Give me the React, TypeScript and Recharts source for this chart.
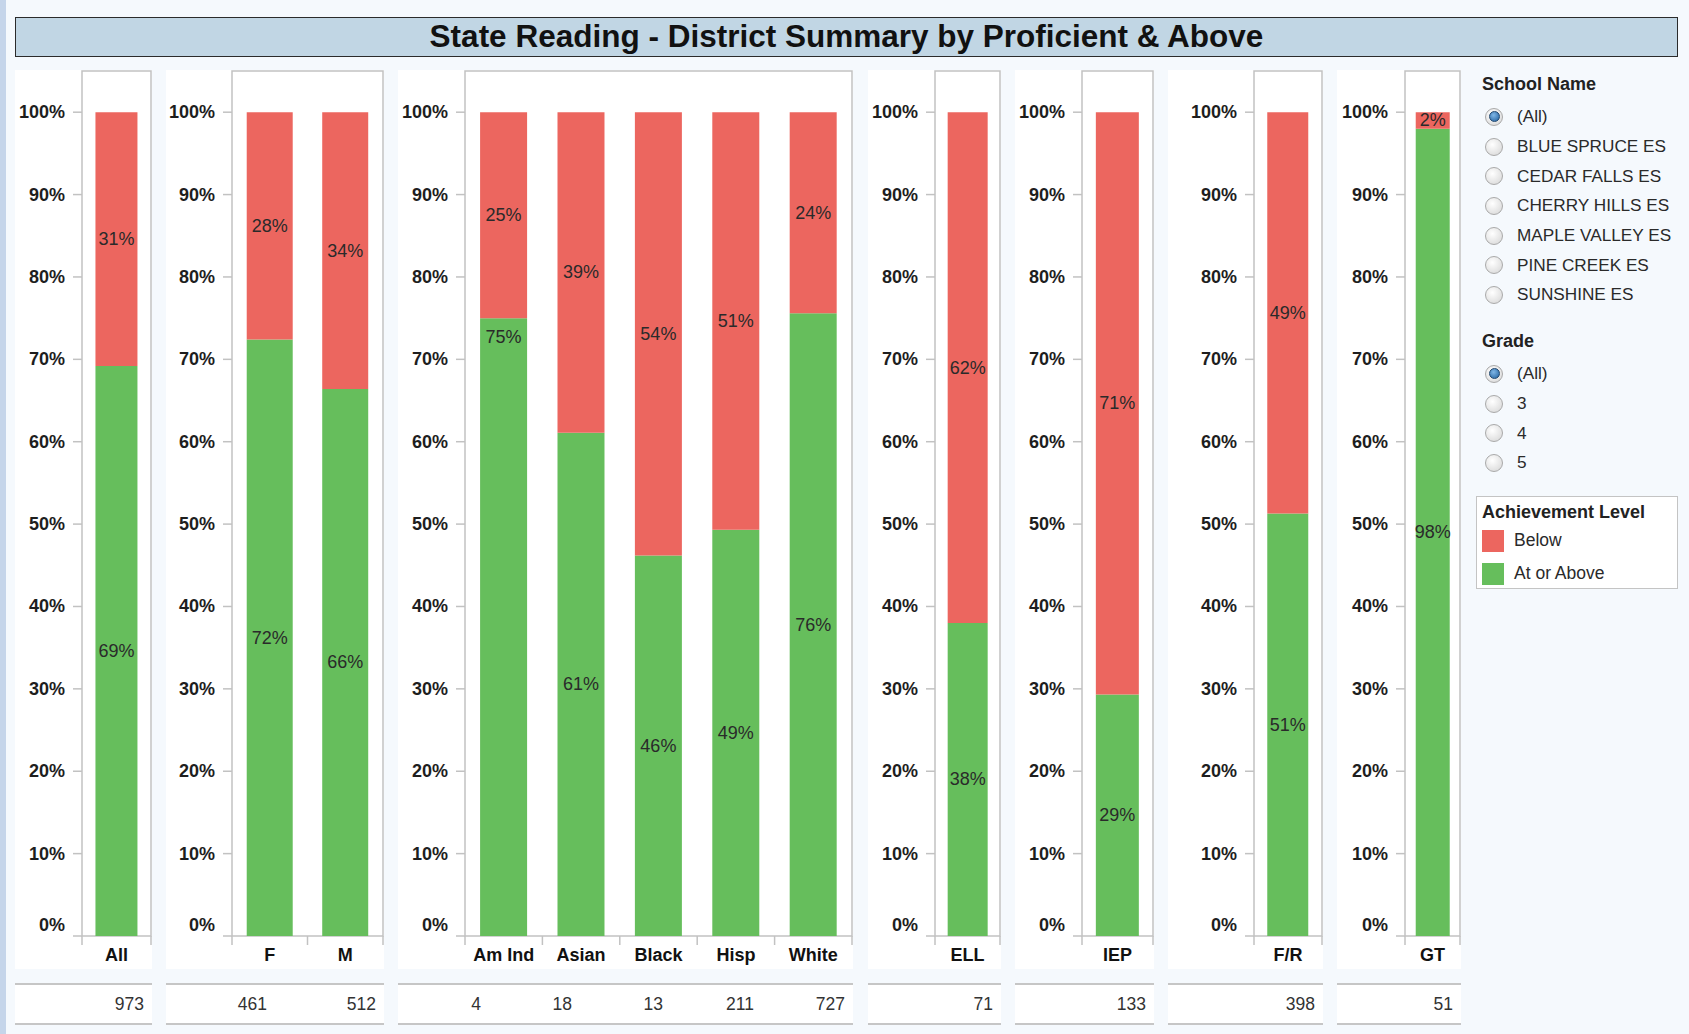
import React from "react";
import { BarChart, Bar, XAxis, YAxis, ReferenceArea, LabelList } from "recharts";

const RED = "#EC665F";
const GREEN = "#66BE5C";
const BOX = "#c2c2c2";
const FONT = '"Liberation Sans", Arial, sans-serif';

// values (percent of students)
const allCats = ["All"];
const allAbove = [69.2];
const allBelow = [30.8];
const allCounts = [973];

const genderCats = ["F", "M"];
const genderAbove = [72.4, 66.4];
const genderBelow = [27.6, 33.6];
const genderCounts = [461, 512];

const raceCats = ["Am Ind", "Asian", "Black", "Hisp", "White"];
const raceAbove = [75, 61.1, 46.2, 49.3, 75.6];
const raceBelow = [25, 38.9, 53.8, 50.7, 24.4];
const raceCounts = [4, 18, 13, 211, 727];

const ellCats = ["ELL"];
const ellAbove = [38];
const ellBelow = [62];
const ellCounts = [71];

const iepCats = ["IEP"];
const iepAbove = [29.3];
const iepBelow = [70.7];
const iepCounts = [133];

const frCats = ["F/R"];
const frAbove = [51.3];
const frBelow = [48.7];
const frCounts = [398];

const gtCats = ["GT"];
const gtAbove = [98];
const gtBelow = [2];
const gtCounts = [51];

// categories whose "At or Above" label sits near the top of the segment
const topLabelCats = ["Am Ind"];

const pctTicks = [0, 10, 20, 30, 40, 50, 60, 70, 80, 90, 100];

const schoolNames = [
  "(All)",
  "BLUE SPRUCE ES",
  "CEDAR FALLS ES",
  "CHERRY HILLS ES",
  "MAPLE VALLEY ES",
  "PINE CREEK ES",
  "SUNSHINE ES",
];
const grades = ["(All)", "3", "4", "5"];

const panels = [
  { left: 15, width: 137, yw: 67, cats: allCats, above: allAbove, below: allBelow, counts: allCounts },
  { left: 166, width: 218, yw: 66, cats: genderCats, above: genderAbove, below: genderBelow, counts: genderCounts },
  { left: 398, width: 455, yw: 67, cats: raceCats, above: raceAbove, below: raceBelow, counts: raceCounts },
  { left: 868, width: 133, yw: 67, cats: ellCats, above: ellAbove, below: ellBelow, counts: ellCounts },
  { left: 1015, width: 139, yw: 67, cats: iepCats, above: iepAbove, below: iepBelow, counts: iepCounts },
  { left: 1168, width: 155, yw: 86, cats: frCats, above: frAbove, below: frBelow, counts: frCounts },
  { left: 1337, width: 124, yw: 68, cats: gtCats, above: gtAbove, below: gtBelow, counts: gtCounts },
];

const CHART_TOP = 70;
const CHART_H = 899;
const XAXIS_H = 33;

const PctTick = (props: any) => {
  const { x, y, payload } = props;
  const dy = payload.value === 0 ? -11 : 0;
  return (
    <text
      x={x}
      y={y + dy}
      textAnchor="end"
      dominantBaseline="central"
      fontFamily={FONT}
      fontWeight="bold"
      fontSize={18}
      fill="#1e1e1e"
    >
      {payload.value}%
    </text>
  );
};

const makeCatTick = (bw: number, n: number) => (props: any) => {
  const { x, y, payload, index } = props;
  return (
    <g>
      <line x1={x - bw / 2} x2={x - bw / 2} y1={y} y2={y + 9} stroke={BOX} strokeWidth={1.5} />
      {index === n - 1 && (
        <line x1={x + bw / 2} x2={x + bw / 2} y1={y} y2={y + 9} stroke={BOX} strokeWidth={1.5} />
      )}
      <text
        x={x}
        y={y + 19}
        textAnchor="middle"
        dominantBaseline="central"
        fontFamily={FONT}
        fontWeight="bold"
        fontSize={18}
        fill="#111"
      >
        {payload.value}
      </text>
    </g>
  );
};

const makeSegLabel = (cats: string[], atTop: boolean) => (props: any) => {
  const { x, y, width, height, value, index } = props;
  const top = atTop && topLabelCats.includes(cats[index]);
  const cy = top ? y + 19 : y + height / 2;
  return (
    <text
      x={x + width / 2}
      y={cy}
      textAnchor="middle"
      dominantBaseline="central"
      fontFamily={FONT}
      fontSize={18}
      fill="#2a2a2a"
    >
      {Math.round(Number(value))}%
    </text>
  );
};

function Panel({ p }: { p: (typeof panels)[number] }) {
  const data = p.cats.map((c, i) => ({ name: c, above: p.above[i], below: p.below[i] }));
  const bw = (p.width - p.yw - 1) / p.cats.length;
  return (
    <div
      style={{
        position: "absolute",
        left: p.left,
        top: CHART_TOP,
        width: p.width,
        height: CHART_H,
        background: "#fff",
      }}
    >
      <BarChart
        width={p.width}
        height={CHART_H}
        data={data}
        margin={{ top: 1, right: 1, bottom: 0, left: 0 }}
        barCategoryGap="19.5%"
        style={{ overflow: "visible" }}
      >
        <XAxis
          dataKey="name"
          height={XAXIS_H}
          axisLine={false}
          tickLine={false}
          tickSize={0}
          tickMargin={0}
          interval={0}
          tick={makeCatTick(bw, p.cats.length)}
        />
        <YAxis
          width={p.yw}
          domain={[0, 105]}
          ticks={pctTicks}
          axisLine={false}
          tickLine={{ stroke: BOX, strokeWidth: 1.5 }}
          tickSize={9}
          tickMargin={8}
          tick={<PctTick />}
        />
        <ReferenceArea y1={0} y2={105} fill="none" stroke={BOX} strokeWidth={1.5} ifOverflow="visible" />
        <Bar dataKey="above" stackId="a" fill={GREEN} isAnimationActive={false}>
          <LabelList dataKey="above" content={makeSegLabel(p.cats, true)} />
        </Bar>
        <Bar dataKey="below" stackId="a" fill={RED} isAnimationActive={false}>
          <LabelList dataKey="below" content={makeSegLabel(p.cats, false)} />
        </Bar>
      </BarChart>
    </div>
  );
}

function CountRow({ p }: { p: (typeof panels)[number] }) {
  return (
    <div
      style={{
        position: "absolute",
        left: p.left,
        top: 983,
        width: p.width,
        height: 42,
        boxSizing: "border-box",
        borderTop: "2px solid #c6c6c6",
        borderBottom: "2px solid #c6c6c6",
        background: "#fff",
        display: "flex",
      }}
    >
      {p.counts.map((c, i) => (
        <div
          key={i}
          style={{
            flex: 1,
            textAlign: "right",
            paddingRight: 8,
            lineHeight: "38px",
            fontFamily: FONT,
            fontSize: 17.5,
            color: "#333",
          }}
        >
          {c}
        </div>
      ))}
    </div>
  );
}

function Radio({ on }: { on: boolean }) {
  return (
    <div
      style={{
        width: 18,
        height: 18,
        borderRadius: "50%",
        boxSizing: "border-box",
        border: "1px solid #a9a9a9",
        background: "radial-gradient(circle at 40% 35%, #ffffff, #d4d4d4)",
        display: "flex",
        alignItems: "center",
        justifyContent: "center",
      }}
    >
      {on && (
        <div
          style={{
            width: 9,
            height: 9,
            borderRadius: "50%",
            background: "radial-gradient(circle at 40% 35%, #7fb6e6, #1f5f9e)",
            border: "1px solid #20476f",
          }}
        />
      )}
    </div>
  );
}

function Filter({ title, items, top }: { title: string; items: string[]; top: number }) {
  return (
    <div style={{ position: "absolute", left: 1482, top, fontFamily: FONT }}>
      <div style={{ fontWeight: "bold", fontSize: 18, color: "#222", height: 22, lineHeight: "22px" }}>{title}</div>
      {items.map((it, i) => (
        <div key={it} style={{ display: "flex", alignItems: "center", height: 29.7, marginTop: i === 0 ? 7 : 0 }}>
          <div style={{ width: 32, paddingLeft: 3 }}>
            <Radio on={i === 0} />
          </div>
          <span style={{ fontSize: 17.2, color: "#2a2a2a" }}>{it}</span>
        </div>
      ))}
    </div>
  );
}

export default function App() {
  return (
    <div
      style={{
        position: "absolute",
        left: 0,
        top: 0,
        width: 1689,
        height: 1034,
        background: "#f5f9fd",
        overflow: "hidden",
        fontFamily: FONT,
      }}
    >
      <div style={{ position: "absolute", left: 0, top: 0, width: 6, height: 1034, background: "#c5d5ea" }} />
      <div
        style={{
          position: "absolute",
          left: 15,
          top: 17,
          width: 1663,
          height: 40,
          boxSizing: "border-box",
          border: "1.5px solid #2b2b2b",
          background: "#c1d6e4",
          textAlign: "center",
          fontWeight: "bold",
          fontSize: 31.5,
          lineHeight: "37px",
          color: "#111",
        }}
      >
        State Reading - District Summary by Proficient &amp; Above
      </div>

      {panels.map((p, i) => (
        <Panel key={i} p={p} />
      ))}
      {panels.map((p, i) => (
        <CountRow key={i} p={p} />
      ))}

      <Filter title="School Name" items={schoolNames} top={73} />
      <Filter title="Grade" items={grades} top={330} />

      <div
        style={{
          position: "absolute",
          left: 1476,
          top: 496,
          width: 202,
          height: 93,
          boxSizing: "border-box",
          border: "1.5px solid #c4c4c4",
          background: "#fff",
          fontFamily: FONT,
          padding: "3px 0 0 5px",
        }}
      >
        <div style={{ fontWeight: "bold", fontSize: 18, color: "#222", height: 24, lineHeight: "24px" }}>
          Achievement Level
        </div>
        {[
          { c: RED, t: "Below" },
          { c: GREEN, t: "At or Above" },
        ].map((l) => (
          <div key={l.t} style={{ display: "flex", alignItems: "center", height: 33 }}>
            <div style={{ width: 22, height: 22, background: l.c, marginRight: 10 }} />
            <span style={{ fontSize: 17.5, color: "#2a2a2a" }}>{l.t}</span>
          </div>
        ))}
      </div>
    </div>
  );
}
